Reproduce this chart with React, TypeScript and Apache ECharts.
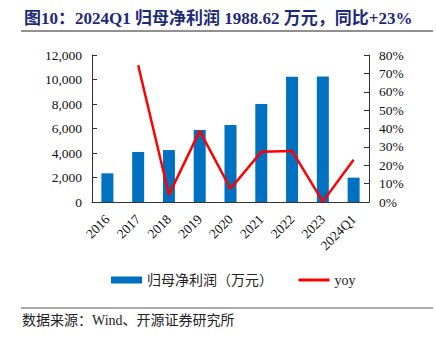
import React, { useEffect, useRef } from "react";
import * as echarts from "echarts";

const categories = ["2016", "2017", "2018", "2019", "2020", "2021", "2022", "2023", "2024Q1"];
const profit = [2340, 4080, 4240, 5880, 6290, 8000, 10220, 10240, 1988.62];
const yoy = [null, 74.4, 3.9, 38.7, 7.2, 27.3, 27.8, 0.2, 23];
const leftTicks = [0, 12000, 2000];
const rightTicks = [0, 80, 10];

const titleText = "图10：2024Q1 归母净利润 1988.62 万元，同比+23%";
const sourceText = "数据来源：Wind、开源证券研究所";
const barName = "归母净利润（万元）";
const lineName = "yoy";

const serif = "'Liberation Serif', 'Noto Sans CJK SC', serif";

export default function App() {
  const ref = useRef<HTMLDivElement>(null);
  useEffect(() => {
    const chart = echarts.init(ref.current!, null, { renderer: "svg" });
    chart.setOption({
      animation: false,
      backgroundColor: "#fff",
      textStyle: { fontFamily: serif },
      title: {
        text: titleText,
        left: 19,
        top: 5,
        textStyle: { fontFamily: serif, fontWeight: "bold", fontSize: 17, color: "#1E2A78" },
      },
      graphic: [
        { type: "line", shape: { x1: 21, y1: 31, x2: 433, y2: 31 }, style: { stroke: "#222", lineWidth: 1.2 } },
        { type: "line", shape: { x1: 21, y1: 308, x2: 433, y2: 308 }, style: { stroke: "#555", lineWidth: 1 } },
        {
          type: "text",
          left: 22,
          top: 313,
          style: { text: sourceText, font: "14px " + serif, fill: "#222" },
        },
      ],
      legend: {
        left: 106,
        top: 268,
        itemWidth: 31,
        itemHeight: 7,
        itemGap: 24,
        textStyle: { fontSize: 14, color: "#222", fontFamily: serif },
        data: [
          { name: barName, icon: "rect" },
          { name: lineName, itemStyle: { opacity: 0 }, lineStyle: { width: 3 } },
        ],
      },
      grid: { left: 92, right: 67, top: 55, bottom: 138 },
      xAxis: {
        type: "category",
        data: categories,
        boundaryGap: true,
        axisLine: { lineStyle: { color: "#333", width: 1 } },
        axisTick: { inside: true, length: 5, lineStyle: { color: "#333" } },
        axisLabel: { rotate: 45, color: "#111", fontSize: 13.5, margin: 15, interval: 0, fontFamily: serif },
      },
      yAxis: [
        {
          type: "value",
          min: leftTicks[0],
          max: leftTicks[1],
          interval: leftTicks[2],
          splitLine: { show: false },
          axisLine: { show: true, lineStyle: { color: "#333" } },
          axisTick: { show: true, inside: true, length: 5, lineStyle: { color: "#333" } },
          axisLabel: {
            color: "#111",
            fontSize: 13.5,
            margin: 10,
            fontFamily: serif,
            formatter: (v: number) => v.toLocaleString("en-US"),
          },
        },
        {
          type: "value",
          min: rightTicks[0],
          max: rightTicks[1],
          interval: rightTicks[2],
          splitLine: { show: false },
          axisLine: { show: true, lineStyle: { color: "#333" } },
          axisTick: { show: true, inside: true, length: 5, lineStyle: { color: "#333" } },
          axisLabel: { color: "#111", fontSize: 13.5, margin: 10, fontFamily: serif, formatter: "{value}%" },
        },
      ],
      series: [
        {
          name: barName,
          type: "bar",
          data: profit,
          barWidth: 12,
          itemStyle: { color: "#0070C0" },
        },
        {
          name: lineName,
          type: "line",
          yAxisIndex: 1,
          data: yoy,
          symbol: "none",
          lineStyle: { color: "#FF0000", width: 2.5 },
          itemStyle: { color: "#FF0000" },
        },
      ],
    });
    return () => chart.dispose();
  }, []);
  return <div ref={ref} style={{ width: 436, height: 340, position: "absolute", left: 0, top: 0 }} />;
}
